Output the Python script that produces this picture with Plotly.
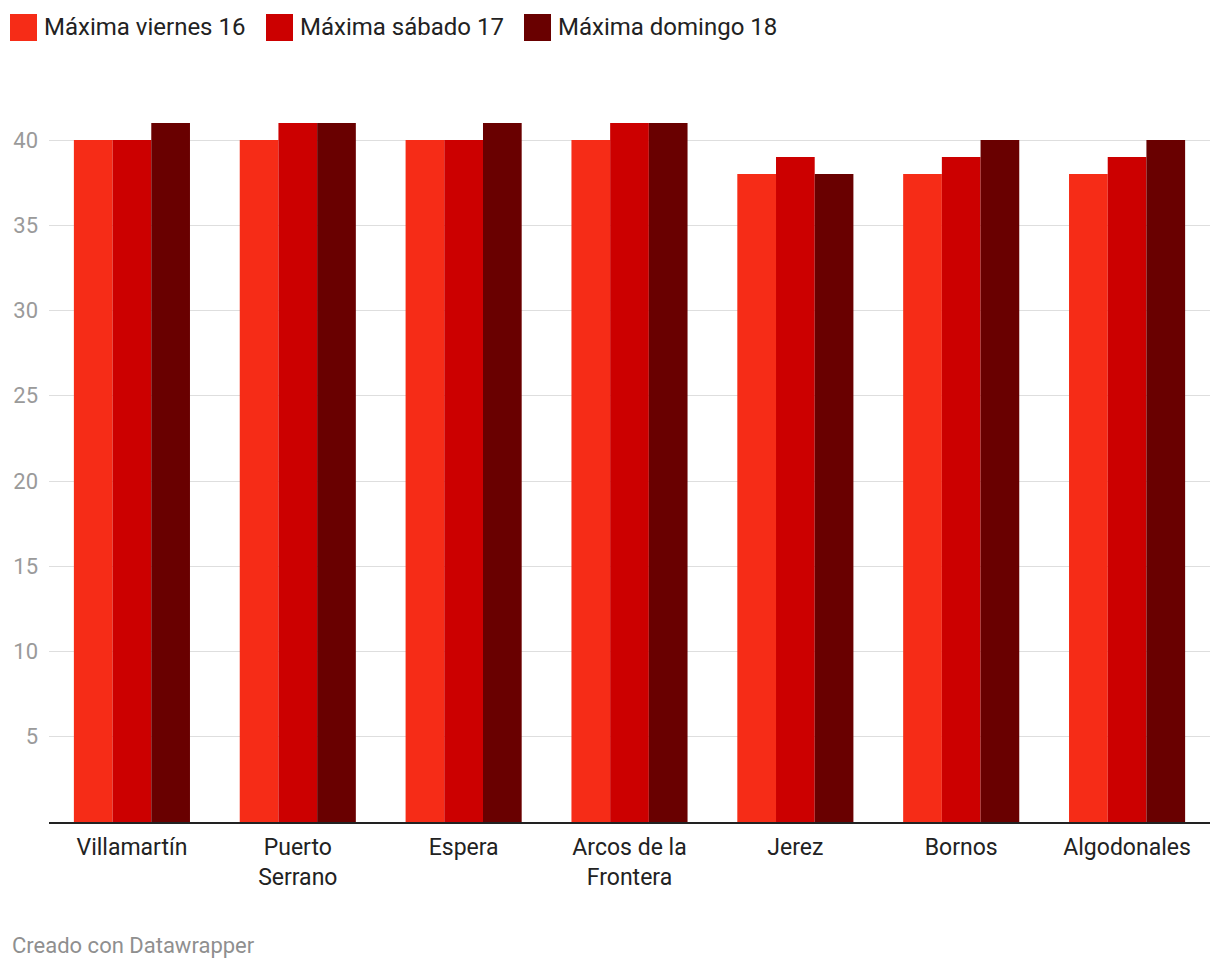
import plotly.graph_objects as go

# datos
municipios = ["Villamartín", "Puerto<br>Serrano", "Espera", "Arcos de la<br>Frontera",
              "Jerez", "Bornos", "Algodonales"]
series = ["Máxima viernes 16", "Máxima sábado 17", "Máxima domingo 18"]
viernes = [40, 40, 40, 40, 38, 38, 38]
sabado = [40, 41, 40, 41, 39, 39, 39]
domingo = [41, 41, 41, 41, 38, 40, 40]
y_ticks = [5, 10, 15, 20, 25, 30, 35, 40]

colores = ["#f62c17", "#cc0000", "#690000"]

W, H = 1220, 972
ML, MR, MT, MB = 49, 10, 100, 150
pw = W - ML - MR
ph = H - MT - MB

fig = go.Figure()
for nombre, vals, c in zip(series, [viernes, sabado, domingo], colores):
    fig.add_trace(go.Bar(x=municipios, y=vals, name=nombre, marker=dict(color=c, line=dict(width=0)),
                         showlegend=False))


def px_x(p):
    return (p - ML) / pw


def px_y(p):
    return 1 - (p - MT) / ph


# leyenda manual (cuadrados grandes como en Datawrapper)
leg_x = [10, 266, 524]
for lx, nombre, c in zip(leg_x, series, colores):
    fig.add_shape(type="rect", xref="paper", yref="paper",
                  x0=px_x(lx), x1=px_x(lx + 27), y0=px_y(41), y1=px_y(14),
                  fillcolor=c, line=dict(width=0))
    fig.add_annotation(text=nombre, xref="paper", yref="paper", x=px_x(lx + 32), y=px_y(27.5),
                       xanchor="left", yanchor="middle", showarrow=False,
                       font=dict(size=24, color="#222222"))

fig.add_annotation(text="Creado con Datawrapper", xref="paper", yref="paper",
                   x=px_x(10), y=px_y(946), xanchor="left", yanchor="middle", showarrow=False,
                   font=dict(size=22, color="#8f8f8f"))

fig.update_layout(
    width=W, height=H, margin=dict(l=ML, r=MR, t=MT, b=MB),
    plot_bgcolor="white", paper_bgcolor="white",
    font=dict(family="Roboto, sans-serif", size=20, color="#333333"),
    barmode="group", bargap=0.3, bargroupgap=0,
)
fig.update_xaxes(showgrid=False, showline=True, linecolor="#222222", linewidth=2,
                 ticks="", ticklabelstandoff=3, tickfont=dict(size=23, color="#222222"))
fig.update_yaxes(range=[0, ph / 17.05], tickvals=y_ticks, showgrid=True, gridcolor="#dedede",
                 gridwidth=1, zeroline=False, ticks="", ticklabelstandoff=10,
                 tickfont=dict(size=22, color="#9a9a9a"))

fig.write_html("out.html", config={"displayModeBar": False},
               post_script="document.body.style.margin='0';")
